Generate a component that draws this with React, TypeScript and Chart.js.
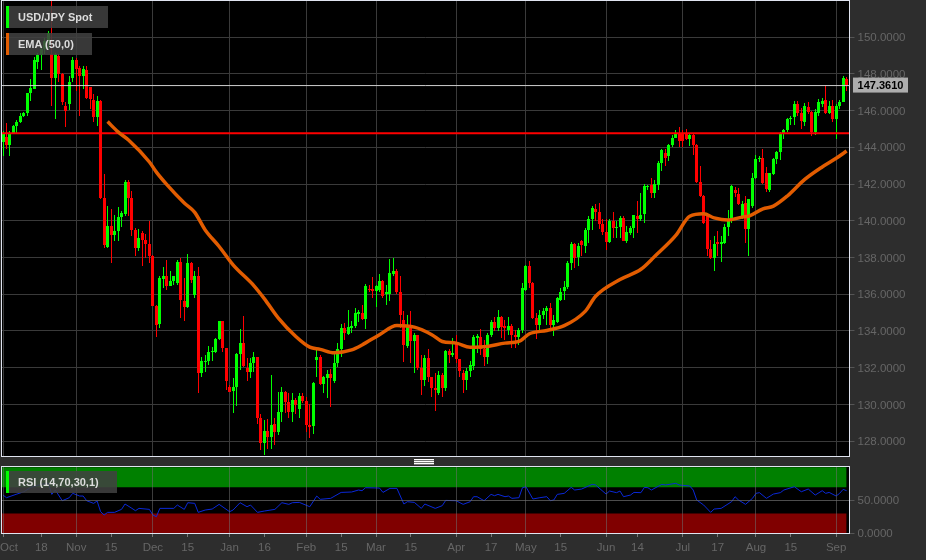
import { useEffect, useRef } from 'react';
import { Chart, registerables } from 'chart.js';

Chart.register(...registerables);

const opens = [
  144.3,144.58,144.13,144.8,145.16,145.38,145.71,145.89,146.93,147.2,
  148.62,149.04,149.35,149.7,149.07,147.8,148.98,147.98,146.25,146.35,
  147.8,148.75,148.31,147.89,148.22,147.27,146.58,145.67,146.53,141.24,
  138.57,139.7,139.25,139.43,140.21,140.39,142.1,141.24,139.52,138.52,
  139.34,138.93,138.75,138.1,135.37,134.37,136.83,136.97,136.43,136.7,
  136.64,137.74,135.66,135.3,137.7,135.97,136.97,131.74,132.34,132.39,
  132.83,132.88,133.55,134.52,133.06,130.97,130.75,130.97,132.73,133.37,
  131.97,131.79,132.24,132.57,129.24,127.88,128.57,128.24,128.93,128.52,
  129.6,130.7,130.15,129.6,130.24,129.73,130.48,130.19,128.88,128.83,
  132.43,132.6,131.1,131.46,131.64,131.3,132.28,133.03,134.15,133.85,
  134.15,134.25,134.9,134.97,134.64,136.3,136.28,136.2,136.25,136.7,
  136.0,136.01,137.12,137.25,136.1,134.58,133.21,134.16,133.43,133.76,
  132.01,131.34,132.52,131.47,130.89,130.65,131.61,130.89,132.89,132.67,
  133.38,132.47,131.7,131.34,131.8,132.12,133.61,133.7,133.03,132.61,
  133.8,134.47,134.16,134.76,134.29,134.03,134.25,133.8,133.7,134.03,
  136.21,137.52,136.61,134.7,134.3,134.89,135.1,135.25,134.34,134.47,
  135.7,136.16,136.4,137.7,138.74,138.03,138.9,138.65,139.52,140.07,
  140.65,140.47,139.85,139.38,138.83,139.98,139.61,139.67,140.16,138.92,
  139.34,139.61,140.25,140.07,140.35,141.85,141.93,141.53,141.93,143.16,
  143.7,143.53,144.1,144.53,144.76,144.71,144.71,144.47,144.65,144.1,
  142.1,141.35,140.25,138.47,137.98,138.84,138.75,138.8,139.67,140.04,
  141.67,141.47,140.25,140.95,139.56,140.8,142.35,143.38,143.4,142.58,
  141.67,142.53,143.38,143.75,144.76,144.95,145.55,145.65,146.38,145.89,
  145.4,146.22,145.93,144.84,145.89,146.35,146.58,145.89,146.25,145.56,
  146.25,146.49,147.71,
];

const highs = [
  144.9,145.35,144.9,145.2,145.49,145.89,145.93,146.98,147.71,148.89,
  149.16,149.53,149.93,150.35,152.1,149.16,149.07,148.04,146.44,147.89,
  148.89,148.84,148.44,148.44,148.44,147.3,146.89,146.8,146.6,142.53,
  140.79,140.64,140.34,140.75,140.52,142.24,142.24,141.6,139.6,139.55,
  139.43,139.3,139.97,138.15,135.4,136.97,137.48,137.84,137.24,137,
  137.88,137.97,136.88,138.19,137.75,137.24,137.48,132.57,132.7,133.19,
  133.15,133.6,134.52,134.55,133.1,131.06,131.43,132.79,134.1,134.83,
  132.52,132.52,132.88,132.6,129.46,129.15,129.19,131.6,129.24,130.7,
  130.93,130.75,130.6,130.64,130.33,130.6,130.6,130.43,130,131.24,
  132.97,132.7,131.55,131.88,131.92,132.79,133.34,134.39,134.46,135.15,
  134.52,135.24,135.15,135.43,136.55,136.5,136.94,136.52,137.12,136.8,
  136.5,137.92,137.95,137.4,137,135.07,134.89,135.07,133.89,133.8,
  132.67,132.67,133,131.5,131.7,131.8,131.7,132.94,133,133.6,
  133.8,132.5,131.89,131.98,132.34,133.8,133.85,134.1,133.52,133.89,
  134.58,134.76,135.12,134.8,134.58,134.76,134.4,134.07,134.16,136.61,
  137.58,137.8,136.65,134.98,135.16,135.25,135.34,135.52,134.89,135.85,
  136.34,136.74,137.8,138.83,138.8,138.8,138.95,139.61,140.25,140.8,
  140.94,140.98,140.07,140.07,140.07,140.47,139.97,140.25,140.25,139.7,
  139.7,140.34,141.07,141.5,141.98,141.95,142.35,142.2,143.25,143.93,
  143.9,144.16,144.65,144.95,145.13,144.95,145,144.76,144.71,144.16,
  143,141.4,140.3,138.98,139.16,139.44,139.16,139.8,140.58,141.96,
  141.85,141.8,141.1,141.35,141.2,142.6,143.6,143.5,143.93,142.95,
  142.6,143.44,143.8,144.84,145.02,145.62,145.7,146.53,146.53,146.16,
  146.4,146.44,145.98,146.07,146.65,146.7,147.38,146.53,146.58,146.35,
  146.58,147.89,147.85,
];

const lows = [
  143.5,143.89,143.53,144.75,144.8,145.31,145.67,145.71,146.53,147.16,
  148.25,148.22,149.07,149.35,146.25,145.56,147.53,146.29,145.13,146.04,
  147.53,147.07,145.71,147.16,146.62,146.11,145.38,145.16,141.2,138.52,
  138.52,137.7,138.88,138.88,139.66,140.25,140.24,139.15,138.06,138.34,
  137.52,138,137.7,135.37,133.66,134.15,136.34,136.24,136.43,136.5,
  136.52,134.7,134.52,135.24,136.6,135.79,130.6,131.52,131.79,132.15,
  132.34,132.79,133.5,132.88,130.79,130.7,129.52,129.92,131.88,132.06,
  131.3,131.43,131.79,128.92,127.52,127.24,127.6,127.6,127.79,128.34,
  129.06,129.52,129.24,129.06,129.5,129.24,130.06,128.52,128.17,128.39,
  131.48,131.06,130.6,130.37,129.85,131.15,132.06,132.6,133.52,133.79,
  133.88,134.15,134.5,134.6,134.1,136.1,135.79,135.3,136.15,135.79,
  135.43,135.61,136.97,136,134.16,132.29,133.07,132.25,131.74,131.89,
  130.52,131.01,131.25,130.4,129.67,130.52,130.43,130.76,132.25,132.6,
  132.25,131.52,130.65,130.8,131.52,131.89,132.8,132.7,132.07,132.2,
  133.7,133.98,133.98,133.6,133.52,133.8,133.07,133.07,133.25,133.89,
  136.16,136.34,134.65,133.56,133.98,134.67,134.34,134.16,133.74,134.43,
  135.61,135.67,136.29,137.34,137.43,137.56,138.1,138.25,138.8,139.49,
  139.98,139.56,139.25,138.43,138.8,139.07,139.07,139.07,138.89,138.8,
  139.25,139.07,139.34,139.98,139.89,141.7,141.25,141.25,141.7,142.7,
  143,143.25,144.03,144.5,144.03,144.03,144.4,144.07,143.56,142.07,
  141.3,139.85,138.07,137.93,137.25,138.07,137.75,138.76,139.16,139.89,
  141.3,140.85,140.1,138.8,138.07,140.71,142.3,143.2,141.98,141.56,
  141.56,142.47,143.07,143.3,144.47,144.84,145.2,145.2,145.7,144.98,
  145.16,145.8,144.62,144.65,145.71,146.2,145.8,145.8,145.38,144.44,
  146.07,146.44,147.04,
];

const closes = [
  144.75,144.13,144.8,145.16,145.38,145.73,145.89,146.93,147.25,148.76,
  149.04,149.35,149.8,150.25,147.76,149.07,147.98,146.44,145.98,147.53,
  148.76,148.29,147.89,148.25,146.71,146.65,145.67,146.53,141.25,138.7,
  139.7,139.25,139.43,140.21,140.43,142.1,141.24,139.52,138.52,139.06,
  138.97,138.75,138.1,135.37,134.34,136.88,136.97,136.43,136.7,136.97,
  137.74,135.7,135.3,137.7,136.75,136.97,131.74,132.34,132.39,132.88,
  132.92,133.55,134.52,133.06,131.3,130.7,130.97,132.73,133.37,132.12,
  131.79,132.24,132.57,129.24,127.92,128.57,128.24,128.88,128.52,129.6,
  130.7,130.15,129.6,130.24,129.97,130.48,130.19,128.88,128.75,131.15,
  132.6,131.1,131.48,131.64,131.43,132.28,133.03,134.15,133.88,134.21,
  134.28,135,135.06,134.66,136.43,136.25,136.2,136.43,136.7,135.88,
  136.15,137.16,137.24,136.1,134.89,133.25,134.25,133.43,133.8,131.98,
  131.34,132.52,131.47,130.89,130.8,131.58,130.89,132.89,132.67,132.8,
  132.47,131.8,131.34,131.83,132.16,133.67,133.74,133.03,132.58,133.8,
  134.5,134.16,134.76,134.21,134.16,134.25,133.8,133.7,134.03,136.34,
  137.52,136.61,134.7,134.3,134.85,135.1,135.25,134.34,134.58,135.8,
  136.1,136.38,137.7,138.76,137.98,138.65,138.7,139.52,140.1,140.7,
  140.5,139.85,139.38,138.83,140,139.61,139.67,140.16,138.92,139.4,
  139.61,140.29,140.1,140.34,141.89,141.9,141.53,141.98,143.16,143.85,
  143.4,144.1,144.53,144.71,144.35,144.35,144.47,144.65,144.1,142.1,
  141.35,139.89,138.47,137.98,138.75,138.75,138.84,139.67,140.07,141.89,
  141.53,140.89,140.93,139.56,141.16,142.35,143.38,143.4,142.07,141.75,
  142.58,143.38,143.75,144.76,144.95,145.56,145.6,146.38,145.85,145.44,
  146.25,145.93,144.84,145.93,146.44,146.53,145.89,146.25,145.56,146.25,
  146.49,147.75,147.36,
];

// EMA at these candle numbers
const emaX = [30, 33, 36, 42, 44, 47, 52, 55, 58, 62, 66, 72, 75, 79, 84, 88, 91, 95, 100, 103, 108, 113, 118, 123, 126, 130, 134, 139, 144, 148, 151, 156, 161, 167, 170, 177, 183, 187, 193, 197, 201, 204, 208, 212, 214, 218, 221, 225, 230, 235, 239, 242];
const emaValues = [145.4, 144.84, 144.4, 143.2, 142.65, 141.97, 140.97, 140.46, 139.5, 138.6, 137.6, 136.46, 135.75, 134.7, 133.7, 133.12, 133.0, 132.81, 132.97, 133.24, 133.8, 134.3, 134.21, 133.8, 133.43, 133.34, 133.12, 133.16, 133.34, 133.43, 133.85, 134.03, 134.29, 135.07, 135.89, 136.8, 137.36, 138.07, 139.2, 140.25, 140.38, 140.16, 140.04, 140.2, 140.25, 140.65, 140.8, 141.35, 142.25, 142.93, 143.4, 143.8];

const rsiX = [0, 1, 4, 6, 8, 11, 13, 14, 15, 17, 19, 20, 22, 23, 24, 26, 27, 28, 29, 30, 32, 34, 35, 37, 38, 39, 42, 43, 44, 45, 49, 50, 52, 53, 55, 56, 58, 60, 62, 65, 66, 68, 70, 71, 73, 75, 78, 80, 82, 83, 85, 88, 90, 91, 94, 97, 100, 102, 103, 104, 108, 109, 111, 113, 115, 116, 118, 120, 121, 124, 126, 127, 130, 132, 134, 135, 136, 138, 140, 141, 142, 144, 145, 146, 148, 149, 150, 152, 154, 156, 157, 158, 159, 161, 163, 164, 166, 169, 170, 173, 174, 176, 177, 178, 180, 181, 183, 184, 185, 186, 189, 190, 193, 194, 197, 198, 199, 201, 203, 204, 206, 209, 210, 211, 213, 215, 216, 217, 219, 221, 223, 224, 227, 229, 231, 233, 235, 236, 237, 239, 240, 241, 242];
const rsiValues = [58, 54, 59.5, 63, 69.6, 74.2, 75.7, 59, 65.6, 49.4, 54, 60.6, 56.5, 56.5, 49.4, 45.4, 49, 32.8, 27.7, 31.8, 31.8, 36.3, 44.4, 37.8, 34.3, 37.8, 36.3, 27.7, 25.2, 37.8, 37.8, 42.9, 36.3, 46.4, 45.4, 31.8, 35.3, 36.8, 43.9, 32.8, 35.3, 46.4, 40.3, 42.9, 31.8, 33.8, 36.3, 46.4, 43.9, 46.4, 46.9, 40.3, 56.5, 51.5, 53, 62, 62.6, 65.6, 64.6, 69.1, 68.6, 62, 68.1, 68.1, 44.4, 47.9, 46.9, 37.8, 44.4, 37.8, 41.9, 49.9, 49.4, 43.9, 47.9, 55.5, 55.5, 49.4, 59, 57, 59, 55.5, 56.5, 53, 54, 69.1, 70.6, 52, 54, 55.5, 49.4, 50.5, 59, 60.6, 69.6, 65.6, 67.1, 74.2, 73.2, 59.5, 64.1, 61.6, 64.1, 55.5, 58, 62, 61.6, 69.6, 69.1, 65.6, 74.2, 73.2, 75.7, 73.2, 71.7, 65.6, 50.5, 42.9, 31.8, 36.8, 37.8, 47.9, 55.5, 50.5, 43.9, 53, 60.6, 61.6, 53, 59.5, 61.6, 65.6, 70.6, 63, 67.1, 58, 64.6, 60.6, 62, 56.5, 60.6, 66.6, 64.6];

const priceTicks = [128, 130, 132, 134, 136, 138, 140, 142, 144, 146, 148, 150];
const rsiTicks = [0, 50];
const monthTicks = [0, 21, 43, 65, 87, 107, 130, 150, 173, 195, 216, 239];
const dateTicks = [0, 1.7, 11, 21, 31, 43, 53, 65, 75, 87, 97, 107, 117, 130, 140, 150, 160, 173, 182, 195, 205, 216, 226, 239];
const dateLabels = ['', 'Oct', '18', 'Nov', '15', 'Dec', '15', 'Jan', '16', 'Feb', '15', 'Mar', '15', 'Apr', '17', 'May', '15', 'Jun', '14', 'Jul', '17', 'Aug', '15', 'Sep'];

const lastPrice = 147.361;
const supportLevel = 144.76;
const xMin = -0.574;
const xMax = 242.83;
const lastCandle = 242;

const GREEN = '#00ff00';
const RED = '#ff0000';
const ORANGE = '#e25c00';
const GRID = '#3a3a3a';
const AXIS_TEXT = '#666666';
const FRAME = '#e0e4f0';
const FONT = '"Liberation Sans", Arial, sans-serif';

Chart.defaults.font.family = FONT;
Chart.defaults.font.size = 11;

const candleColors = closes.map((c, i) => (c >= opens[i] ? GREEN : RED));

// black plot, light frame round it
const framePlugin = {
  id: 'frame',
  beforeDraw(chart: any) {
    const { ctx, chartArea: a } = chart;
    ctx.fillStyle = '#000';
    ctx.fillRect(a.left, a.top, a.right - a.left, a.bottom - a.top);
  },
  afterDraw(chart: any) {
    const { ctx, chartArea: a } = chart;
    ctx.strokeStyle = FRAME;
    ctx.lineWidth = 1;
    ctx.strokeRect(Math.round(a.left) + 0.5, Math.round(a.top) + 0.5, Math.round(a.right - a.left) - 1, Math.round(a.bottom - a.top) - 1);
  },
};

// candles sit on whole pixels, like in the original
const snapPlugin = {
  id: 'snap',
  beforeDatasetsDraw(chart: any) {
    chart.data.datasets.forEach((ds: any, i: number) => {
      if (ds.type !== 'bar') return;
      chart.getDatasetMeta(i).data.forEach((bar: any) => {
        bar.x = Math.floor(bar.x) + 0.5;
        bar.y = Math.round(bar.y);
        bar.base = Math.round(bar.base);
        if (bar.base === bar.y) bar.base = bar.y + 1;
      });
    });
  },
};

const priceTagPlugin = {
  id: 'priceTag',
  afterDraw(chart: any) {
    const { ctx, chartArea: a } = chart;
    const y = chart.scales.y.getPixelForValue(lastPrice) - 0.5;
    ctx.fillStyle = '#adadad';
    ctx.fillRect(a.right + 3.5, y - 7.5, 55, 15);
    ctx.fillStyle = '#000';
    ctx.font = `bold 11px ${FONT}`;
    ctx.textAlign = 'center';
    ctx.textBaseline = 'middle';
    ctx.fillText(lastPrice.toFixed(4), a.right + 31, y + 0.5);
  },
};

const flatLine = (value: number, color: string, width: number, order: number) => ({
  type: 'line',
  data: [{ x: xMin, y: value }, { x: xMax, y: value }],
  borderColor: color,
  borderWidth: width,
  pointRadius: 0,
  order,
});

const bandEdge = (value: number, fillColor: string | false) => ({
  data: [{ x: xMin, y: value }, { x: lastCandle, y: value }],
  borderWidth: 0,
  pointRadius: 0,
  fill: fillColor ? '+1' : false,
  backgroundColor: fillColor || 'transparent',
  order: 5,
});

function xAxis(showLabels: boolean) {
  return {
    type: 'linear',
    min: xMin,
    max: xMax,
    offset: false,
    afterBuildTicks: (axis: any) => {
      axis.ticks = (showLabels ? dateTicks : monthTicks).map((value) => ({ value }));
    },
    afterFit: (axis: any) => {
      axis.height = showLabels ? 26 : 0;
      axis.paddingLeft = 0;
      axis.paddingRight = 0;
    },
    border: { display: false },
    grid: {
      offset: false,
      z: showLabels ? 1 : -1,
      color: (c: any) => (c.tick && monthTicks.includes(c.tick.value) ? (showLabels ? 'rgba(110,110,110,0.55)' : GRID) : 'transparent'),
      tickColor: (c: any) => (c.tick && c.tick.value === 1.7 ? 'transparent' : '#777'),
      tickLength: 3,
      drawTicks: showLabels,
    },
    ticks: {
      display: showLabels,
      autoSkip: false,
      maxRotation: 0,
      padding: 4,
      color: AXIS_TEXT,
      font: { size: 11.5 },
      callback: (value: number) => {
        const at = dateTicks.indexOf(value);
        return at >= 0 ? dateLabels[at] : '';
      },
    },
  };
}

function yAxis(min: number, max: number, values: number[], width: number, labelOffset: number) {
  return {
    position: 'right',
    min,
    max,
    afterBuildTicks: (axis: any) => {
      axis.ticks = values.map((value) => ({ value }));
    },
    afterFit: (axis: any) => {
      axis.width = width;
      axis.paddingTop = 0;
      axis.paddingBottom = 0;
    },
    border: { display: false },
    grid: { color: GRID, tickColor: '#555', tickLength: 5 },
    ticks: {
      color: AXIS_TEXT,
      padding: 3,
      labelOffset,
      font: { size: 11.5 },
      callback: (value: number) => value.toFixed(4),
    },
  };
}

export default function App() {
  const priceRef = useRef<HTMLCanvasElement>(null);
  const rsiRef = useRef<HTMLCanvasElement>(null);

  useEffect(() => {
    if (!priceRef.current || !rsiRef.current) return;

    const priceChart = new Chart(priceRef.current, {
      type: 'bar',
      data: {
        datasets: [
          {
            type: 'bar',
            data: closes.map((_, i) => ({ x: i, y: [lows[i], highs[i]] })),
            backgroundColor: candleColors,
            barThickness: 1,
            inflateAmount: 0,
            grouped: false,
            order: 6,
          },
          {
            type: 'bar',
            data: closes.map((c, i) => ({ x: i, y: [opens[i], c] })),
            backgroundColor: candleColors,
            barThickness: 3,
            inflateAmount: 0,
            grouped: false,
            order: 5,
          },
          flatLine(lastPrice, '#cfcfcf', 1, 4),
          flatLine(supportLevel, RED, 2, 3),
          {
            type: 'line',
            data: emaX.map((x, i) => ({ x, y: emaValues[i] })),
            borderColor: ORANGE,
            borderWidth: 3.5,
            pointRadius: 0,
            cubicInterpolationMode: 'monotone',
            order: 1,
          },
        ],
      } as any,
      options: {
        responsive: false,
        animation: false,
        events: [],
        layout: { padding: { left: 1, top: 0, right: 0, bottom: 0 } },
        plugins: { legend: { display: false }, tooltip: { enabled: false } },
        scales: {
          x: xAxis(false),
          y: yAxis(127.14, 152.02, priceTicks, 76.5, 1),
        },
      } as any,
      plugins: [framePlugin, snapPlugin, priceTagPlugin],
    });

    const rsiChart = new Chart(rsiRef.current, {
      type: 'line',
      data: {
        datasets: [
          bandEdge(100, '#008000'),
          bandEdge(70, false),
          bandEdge(30, '#800000'),
          bandEdge(0, false),
          {
            data: rsiX.map((x, i) => ({ x, y: rsiValues[i] })),
            borderColor: '#0a28d8',
            borderWidth: 1,
            pointRadius: 0,
            order: 1,
          },
        ],
      } as any,
      options: {
        responsive: false,
        animation: false,
        events: [],
        layout: { padding: { left: 1, top: 0, right: 0, bottom: 0 } },
        plugins: { legend: { display: false }, tooltip: { enabled: false } },
        scales: {
          x: xAxis(true),
          y: { ...yAxis(-1, 102, rsiTicks, 76.5, 0), grid: { z: 1, color: 'rgba(110,110,110,0.7)', tickColor: '#555', tickLength: 5 } },
        },
      } as any,
      plugins: [framePlugin],
    });

    return () => {
      priceChart.destroy();
      rsiChart.destroy();
    };
  }, []);

  return (
    <div style={{ position: 'fixed', inset: 0, background: '#2d2d2d', overflow: 'hidden', fontFamily: FONT }}>
      <canvas ref={priceRef} width={926} height={457} style={{ position: 'absolute', left: 0, top: 0 }} />
      <canvas ref={rsiRef} width={926} height={94} style={{ position: 'absolute', left: 0, top: 466 }} />
      <Tag text="USD/JPY Spot" color={GREEN} left={6} top={6} width={102} />
      <Tag text="EMA (50,0)" color={ORANGE} left={6} top={33} width={86} />
      <Tag text="RSI (14,70,30,1)" color={GREEN} left={6} top={471} width={111} />
      <div
        style={{
          position: 'absolute',
          left: 414,
          top: 459,
          width: 20,
          height: 6,
          background: 'repeating-linear-gradient(to bottom, #fff 0 1px, #777 1px 2px)',
        }}
      />
    </div>
  );
}

function Tag({ text, color, left, top, width }: { text: string; color: string; left: number; top: number; width: number }) {
  return (
    <div
      style={{
        position: 'absolute',
        left,
        top,
        width: width - 3,
        height: 22,
        lineHeight: '22px',
        background: 'rgba(64,64,64,0.87)',
        borderLeft: `3px solid ${color}`,
        color: '#dcdcdc',
        fontSize: 11,
        fontWeight: 'bold',
        paddingLeft: 0,
        textIndent: 9,
        whiteSpace: 'nowrap',
      }}
    >
      {text}
    </div>
  );
}
